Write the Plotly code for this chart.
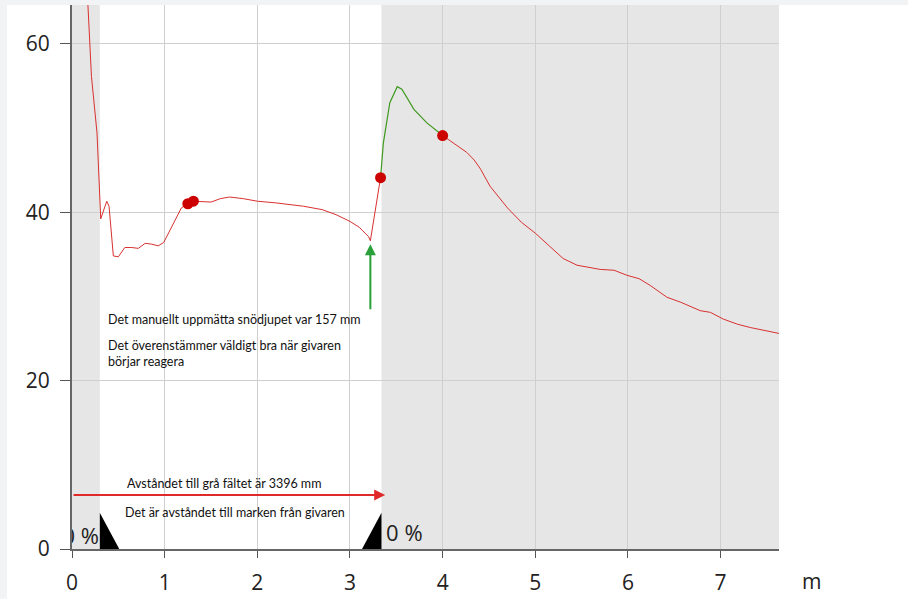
import plotly.graph_objects as go

# --- data ---
x_red1 = [0.17, 0.19, 0.21, 0.27, 0.31, 0.375, 0.40, 0.446, 0.50, 0.57, 0.645, 0.716, 0.79, 0.86, 0.93, 0.99,
          1.18, 1.25, 1.31, 1.5, 1.6, 1.7, 1.85, 2.0, 2.2, 2.5, 2.7, 2.85, 3.0, 3.1, 3.2, 3.22, 3.33]
y_red1 = [65.0, 60.1, 56.1, 49.4, 39.2, 41.3, 40.7, 34.8, 34.7, 35.8, 35.8, 35.7, 36.3, 36.2, 36.0, 36.4,
          40.5, 41.0, 41.3, 41.2, 41.6, 41.8, 41.6, 41.3, 41.1, 40.7, 40.3, 39.7, 38.9, 38.2, 37.1, 36.6, 44.1]
x_green = [3.33, 3.36, 3.43, 3.51, 3.56, 3.69, 3.83, 4.0]
y_green = [44.1, 48.2, 53.0, 54.9, 54.6, 52.2, 50.6, 49.1]
x_red2 = [4.0, 4.12, 4.26, 4.34, 4.41, 4.51, 4.7, 4.85, 5.0, 5.15, 5.3, 5.45, 5.6, 5.70, 5.85, 5.99, 6.12, 6.24,
          6.42, 6.57, 6.78, 6.89, 7.03, 7.18, 7.32, 7.47, 7.63]
y_red2 = [49.1, 48.2, 47.1, 46.2, 45.1, 43.1, 40.5, 38.8, 37.5, 36.0, 34.5, 33.7, 33.4, 33.2, 33.1, 32.5, 32.1, 31.3,
          29.9, 29.3, 28.3, 28.1, 27.3, 26.7, 26.3, 26.0, 25.6]
dot_x = [1.25, 1.31, 3.33, 4.0]
dot_y = [41.0, 41.3, 44.1, 49.1]

x_ticks = [0, 1, 2, 3, 4, 5, 6, 7]
y_ticks = [0, 20, 40, 60]
x_max = 7.63
y_max = 64.6
gray_left = [0, 0.30]
gray_right = [3.34, x_max]
ground_dist = 3.38

red = "#d93030"
green = "#3f9a1f"
txt_font = dict(size=12.5, family="Lato", color="#111")

fig = go.Figure()
fig.add_trace(go.Scatter(x=x_red1, y=y_red1, mode="lines", line=dict(color=red, width=1), hoverinfo="skip"))
fig.add_trace(go.Scatter(x=x_green, y=y_green, mode="lines", line=dict(color=green, width=1.2), hoverinfo="skip"))
fig.add_trace(go.Scatter(x=x_red2, y=y_red2, mode="lines", line=dict(color=red, width=1), hoverinfo="skip"))
fig.add_trace(go.Scatter(x=dot_x, y=dot_y, mode="markers", marker=dict(color="#cc0000", size=11), hoverinfo="skip"))

# triangles (black)
fig.add_trace(go.Scatter(x=[0.30, 0.30, 0.51, 0.30], y=[4.3, 0, 0, 4.3], mode="lines", fill="toself",
                         fillcolor="black", line=dict(color="black", width=0), hoverinfo="skip"))
fig.add_trace(go.Scatter(x=[3.13, 3.34, 3.34, 3.13], y=[0, 0, 4.3, 0], mode="lines", fill="toself",
                         fillcolor="black", line=dict(color="black", width=0), hoverinfo="skip"))
# "0 %" labels
fig.add_trace(go.Scatter(x=[0.29], y=[1.3], mode="text", text=["0 %"], textposition="middle left",
                         textfont=dict(size=22, color="#222", family="Open Sans"), cliponaxis=True, hoverinfo="skip"))
fig.add_trace(go.Scatter(x=[3.39], y=[1.66], mode="text", text=["0 %"], textposition="middle right",
                         textfont=dict(size=22, color="#222", family="Open Sans"), cliponaxis=True, hoverinfo="skip"))

shapes = [
    dict(type="rect", xref="x", yref="y", x0=gray_left[0], x1=gray_left[1], y0=0, y1=y_max,
         fillcolor="#e6e6e6", line=dict(width=0), layer="below"),
    dict(type="rect", xref="x", yref="y", x0=gray_right[0], x1=gray_right[1], y0=0, y1=y_max,
         fillcolor="#e6e6e6", line=dict(width=0), layer="below"),
    # screenshot border strips
    dict(type="rect", xref="paper", yref="paper", x0=-72/707, x1=836/707, y0=1, y1=1+5/546,
         fillcolor="#f2f3f5", line=dict(width=0), layer="below"),
    dict(type="rect", xref="paper", yref="paper", x0=-72/707, x1=-65/707, y0=-50/546, y1=1,
         fillcolor="#f2f3f5", line=dict(width=0), layer="below"),
]

annotations = [
    # green arrow
    dict(x=3.22, y=36.2, ax=3.22, ay=28.3, xref="x", yref="y", axref="x", ayref="y", text="",
         showarrow=True, arrowhead=2, arrowsize=1.1, arrowwidth=2, arrowcolor="#2aa03a"),
    # red arrow
    dict(x=ground_dist, y=6.4, ax=0, ay=6.4, xref="x", yref="y", axref="x", ayref="y", text="",
         showarrow=True, arrowhead=2, arrowsize=1.1, arrowwidth=2, arrowcolor="#e02a2a"),
    dict(x=0.37, y=27.3, xref="x", yref="y", text="Det manuellt uppmätta snödjupet var 157 mm",
         showarrow=False, xanchor="left", yanchor="middle", font=txt_font),
    dict(x=0.37, y=23.2, xref="x", yref="y", text="Det överenstämmer väldigt bra när givaren<br>börjar reagera",
         showarrow=False, xanchor="left", yanchor="middle", align="left", font=txt_font),
    dict(x=0.57, y=7.8, xref="x", yref="y", text="Avståndet till grå fältet är 3396 mm",
         showarrow=False, xanchor="left", yanchor="middle", font=txt_font),
    dict(x=0.55, y=4.3, xref="x", yref="y", text="Det är avståndet till marken från givaren",
         showarrow=False, xanchor="left", yanchor="middle", font=txt_font),
    dict(x=(811-72)/707, y=(551-583)/546, xref="paper", yref="paper", text="m", showarrow=False,
         xanchor="center", yanchor="middle", font=dict(size=21, family="Open Sans", color="#222")),
]

fig.update_layout(
    width=908, height=601,
    margin=dict(l=72, r=129, t=5, b=50),
    paper_bgcolor="white", plot_bgcolor="white",
    showlegend=False,
    shapes=shapes, annotations=annotations,
    xaxis=dict(range=[0, x_max], tickvals=x_ticks, ticks="outside", ticklen=7, tickcolor="#555",
               ticklabelstandoff=7,
               showgrid=True, gridcolor="#cfcfcf", gridwidth=1, zeroline=False,
               showline=True, linecolor="#666", linewidth=2,
               tickfont=dict(size=21, family="Open Sans", color="#222")),
    yaxis=dict(range=[0, y_max], tickvals=y_ticks, ticks="outside", ticklen=10, tickcolor="#555",
               ticklabelstandoff=6,
               showgrid=True, gridcolor="#cfcfcf", gridwidth=1, zeroline=False,
               showline=True, linecolor="#666", linewidth=2,
               tickfont=dict(size=21, family="Open Sans", color="#222")),
)

fig.write_html("out.html", config={"displayModeBar": False},
               post_script="document.body.style.margin='0';")
